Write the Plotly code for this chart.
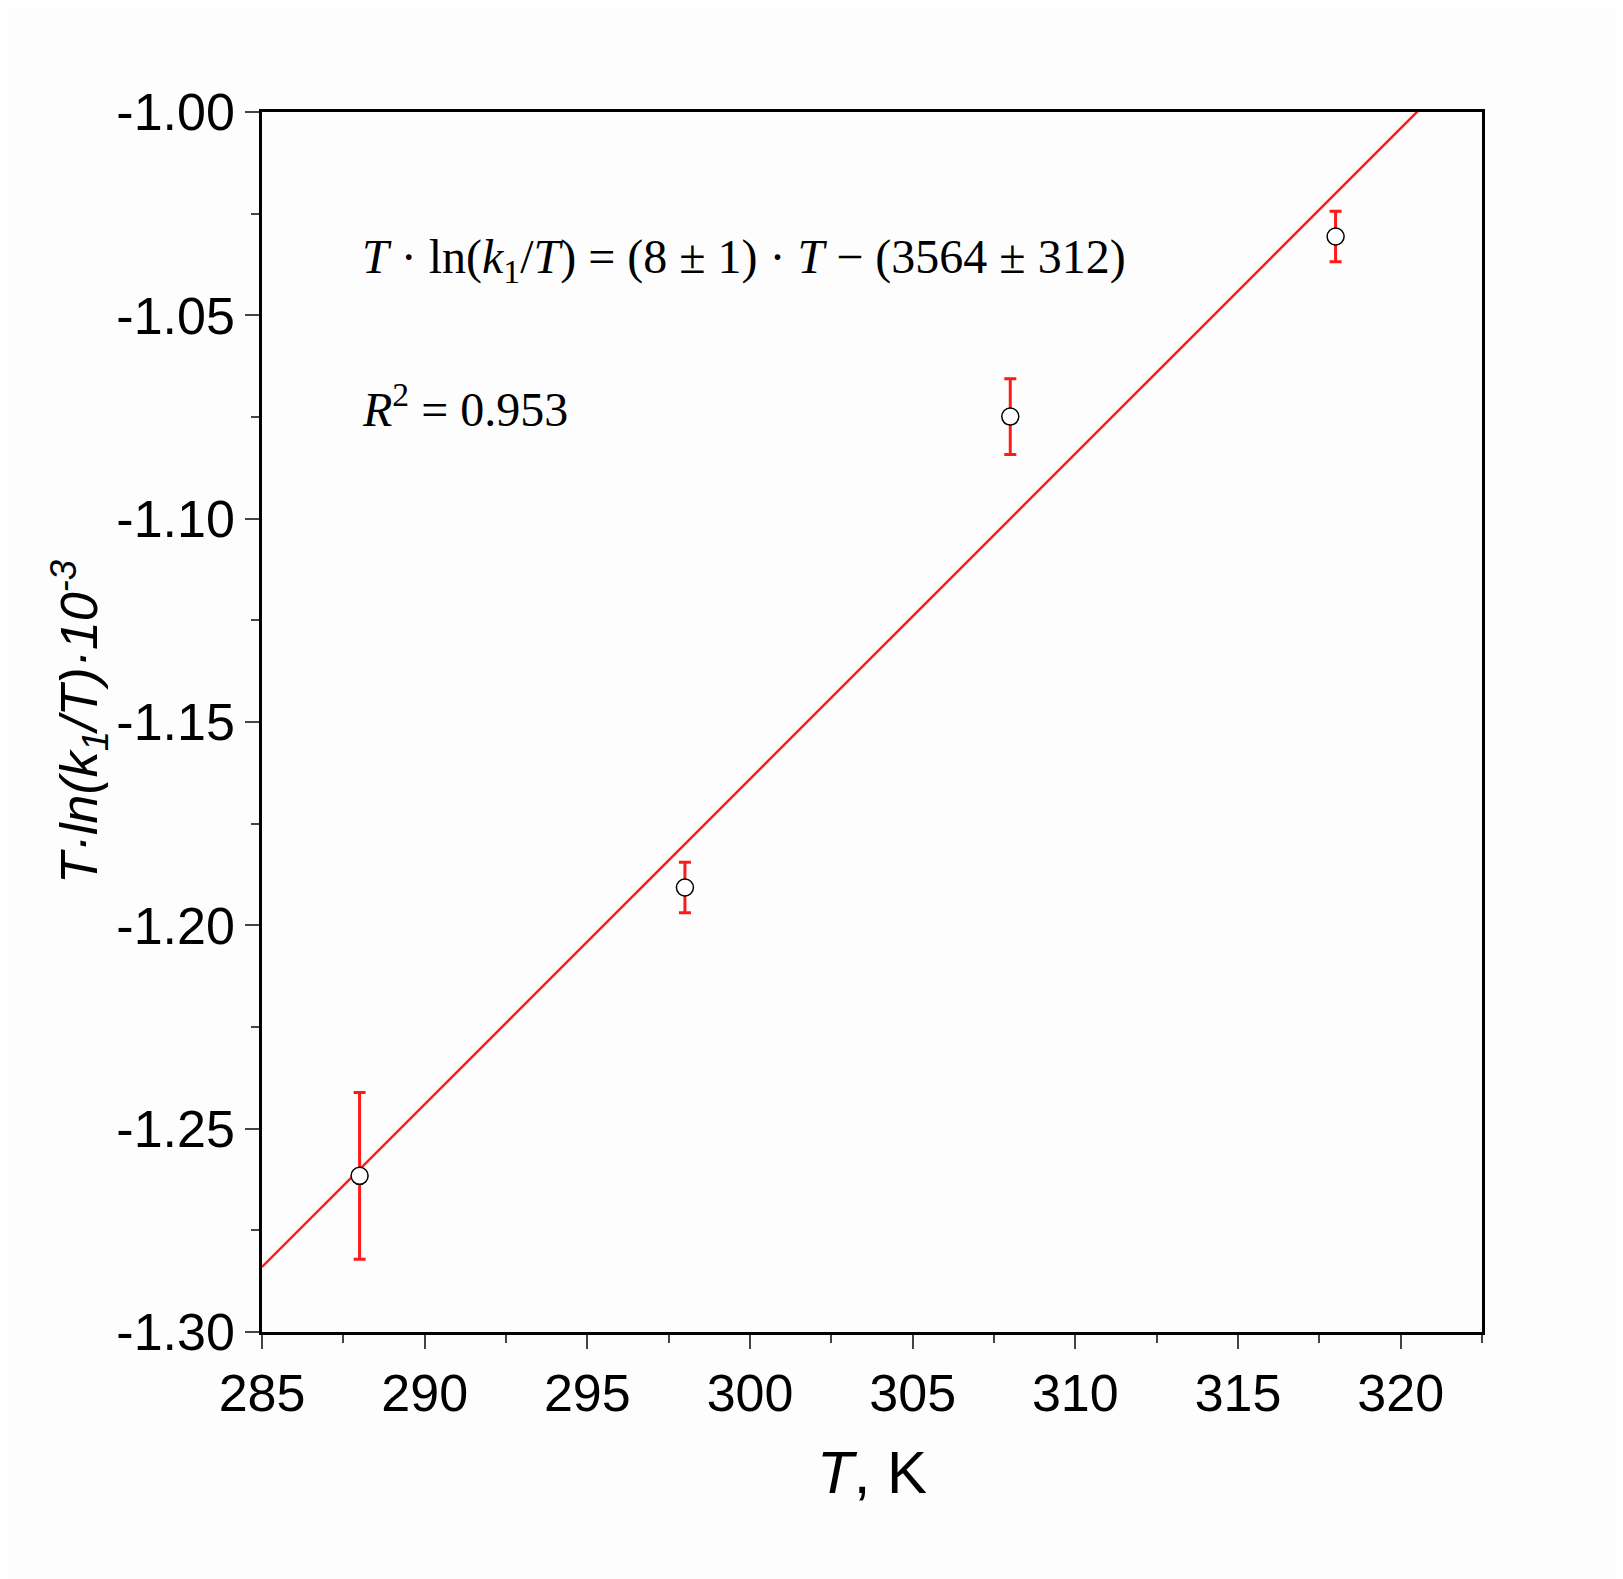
import plotly.graph_objects as go

# data
temps = [288, 298, 308, 318]
vals = [-1.2616, -1.1907, -1.0749, -1.0306]
errs = [0.0205, 0.0062, 0.0093, 0.0062]
fit_slope = 0.008
fit_icpt = -3.564
fit_x = [285, 322.5]
y_ticks = [-1.30, -1.25, -1.20, -1.15, -1.10, -1.05, -1.00]
y_labels = ["-%.2f" % abs(v) for v in y_ticks]

fig = go.Figure()
fig.add_trace(go.Scatter(
    x=fit_x, y=[fit_slope * t + fit_icpt for t in fit_x],
    mode="lines", line=dict(color="#ff1a1a", width=2.5), showlegend=False))
fig.add_trace(go.Scatter(
    x=temps, y=vals, mode="markers",
    marker=dict(symbol="circle", size=17, color="white",
                line=dict(color="black", width=1.5)),
    error_y=dict(type="data", array=errs, color="#ff1a1a", thickness=3, width=6),
    showlegend=False))

tick_font = dict(family="Liberation Sans, Arial", size=52, color="black")
fig.update_layout(
    width=1623, height=1579,
    margin=dict(l=254, r=149, t=104, b=255),
    plot_bgcolor="#fdfdfd", paper_bgcolor="#fdfdfd",
    xaxis=dict(range=[285, 322.5], dtick=5, ticks="outside", ticklen=14, tickwidth=2,
               showgrid=False, zeroline=False, showline=True, mirror=True,
               linecolor="black", linewidth=2.5, tickfont=tick_font,
               minor=dict(dtick=2.5, ticks="outside", ticklen=8, tickwidth=2),
               title=dict(text="<i>T</i>, K", font=dict(family="Liberation Sans, Arial", size=60, color="black"), standoff=30)),
    yaxis=dict(range=[-1.30, -1.00], tickvals=y_ticks, ticktext=y_labels, ticks="outside",
               ticklen=14, tickwidth=2, showgrid=False, zeroline=False, showline=True,
               mirror=True, linecolor="black", linewidth=2.5, tickfont=tick_font,
               minor=dict(dtick=0.025, ticks="outside", ticklen=8, tickwidth=2),
               title=dict(text="<i>T·ln(k<sub>1</sub>/T)·10<sup>-3</sup></i>",
                          font=tick_font, standoff=0)),
)
eq_font = dict(family="Liberation Serif, Times New Roman", size=48, color="black")
fig.add_annotation(xref="paper", yref="paper", x=0.08, y=0.905, xanchor="left",
                   showarrow=False, font=eq_font,
                   text="<i>T</i> · ln(<i>k</i><sub>1</sub>/<i>T</i>) = (8 ± 1) · <i>T</i> − (3564 ± 312)")
fig.add_annotation(xref="paper", yref="paper", x=0.08, y=0.785, xanchor="left",
                   showarrow=False, font=eq_font,
                   text="<i>R</i><sup>2</sup> = 0.953")

fig.write_html("out.html")
